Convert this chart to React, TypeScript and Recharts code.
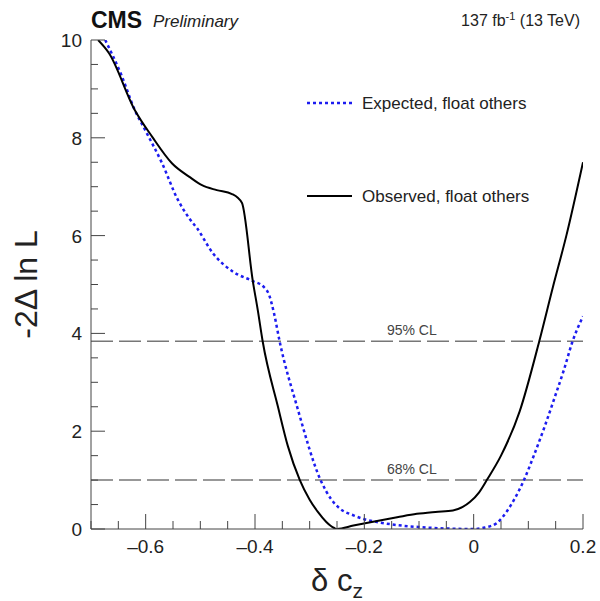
import { LineChart, Line, XAxis, YAxis, ReferenceLine } from 'recharts';

// observed scan, float others
const obsX = [-0.687, -0.667, -0.62, -0.588, -0.552, -0.52, -0.497, -0.47, -0.442, -0.424, -0.404, -0.395, -0.386, -0.358, -0.34, -0.318, -0.3, -0.285, -0.27, -0.255, -0.25, -0.22, -0.184, -0.14, -0.104, -0.07, -0.038, -0.02, -0.007, 0.01, 0.024, 0.05, 0.084, 0.12, 0.145, 0.17, 0.2];
const obsY = [10, 9.73, 8.57, 8.02, 7.48, 7.2, 7.03, 6.93, 6.85, 6.67, 5.07, 4.48, 3.84, 2.5, 1.7, 1.0, 0.6, 0.35, 0.15, 0.02, 0, 0.07, 0.15, 0.24, 0.31, 0.35, 0.38, 0.45, 0.55, 0.75, 1.0, 1.5, 2.4, 3.84, 4.95, 6.02, 7.5];

// expected scan, float others
const expX = [-0.674, -0.645, -0.62, -0.601, -0.57, -0.541, -0.52, -0.506, -0.477, -0.44, -0.404, -0.384, -0.374, -0.365, -0.355, -0.323, -0.28, -0.26, -0.245, -0.22, -0.2, -0.17, -0.14, -0.1, -0.05, 0, 0.02, 0.042, 0.06, 0.075, 0.092, 0.11, 0.13, 0.15, 0.165, 0.181, 0.2];
const expY = [10, 9.3, 8.57, 8.16, 7.48, 6.73, 6.35, 6.15, 5.64, 5.26, 5.07, 4.95, 4.78, 4.4, 3.84, 2.5, 1.0, 0.6, 0.42, 0.28, 0.2, 0.13, 0.08, 0.04, 0.01, 0, 0.03, 0.12, 0.35, 0.62, 1.0, 1.5, 2.1, 2.75, 3.25, 3.84, 4.35];

const xTicks = [-0.7, -0.65, -0.6, -0.55, -0.5, -0.45, -0.4, -0.35, -0.3, -0.25, -0.2, -0.15, -0.1, -0.05, 0, 0.05, 0.1, 0.15, 0.2];
const xMajor = [-0.6, -0.4, -0.2, 0, 0.2];
const xMajorLabels = ['\u20130.6', '\u20130.4', '\u20130.2', '0', '0.2'];
const yTicks = [0, 0.5, 1, 1.5, 2, 2.5, 3, 3.5, 4, 4.5, 5, 5.5, 6, 6.5, 7, 7.5, 8, 8.5, 9, 9.5, 10];
const yMajor = [0, 2, 4, 6, 8, 10];
const yMajorLabels = ['0', '2', '4', '6', '8', '10'];

const clLevels = [3.84, 1.0];
const clLabels = ['95% CL', '68% CL'];

const observed = obsX.map((x, i) => ({ x, y: obsY[i] }));
const expected = expX.map((x, i) => ({ x, y: expY[i] }));

const AXIS = '#444';
const FONT = '"Liberation Sans", Arial, sans-serif';

const idx = (list: number[], v: number) => list.findIndex((m) => Math.abs(m - v) < 1e-6);

function XTick(props: any) {
  const { x, y, payload, top } = props;
  const i = idx(xMajor, payload.value);
  const len = i >= 0 ? 15 : 8;
  const d = top ? 1 : -1;
  return (
    <g>
      <line x1={x} x2={x} y1={y} y2={y + d * len} stroke={AXIS} strokeWidth={1} />
      {!top && i >= 0 && (
        <text x={x} y={y + 24} textAnchor="middle" fontSize={19} fill="#222" fontFamily={FONT}>
          {xMajorLabels[i]}
        </text>
      )}
    </g>
  );
}

function YTick(props: any) {
  const { x, y, payload, right } = props;
  const i = idx(yMajor, payload.value);
  const len = i >= 0 ? 14 : 7;
  const d = right ? -1 : 1;
  return (
    <g>
      <line x1={x} x2={x + d * len} y1={y} y2={y} stroke={AXIS} strokeWidth={1} />
      {!right && i >= 0 && (
        <text x={x - 9} y={y + 7} textAnchor="end" fontSize={19} fill="#222" fontFamily={FONT}>
          {yMajorLabels[i]}
        </text>
      )}
    </g>
  );
}

const legendItems = [
  { name: 'Expected, float others', color: '#1c1cf0', dash: '3 3', width: 2.5 },
  { name: 'Observed, float others', color: '#000', dash: undefined, width: 2 },
];

export default function App() {
  return (
    <div style={{ position: 'relative', width: 600, height: 601, background: '#fff' }}>
      <style>{'body{margin:0}'}</style>
      <LineChart width={600} height={601} margin={{ top: 40, right: 17, bottom: 32, left: 31 }} style={{ fontFamily: FONT }}>
        <XAxis
          dataKey="x"
          type="number"
          domain={[-0.7, 0.2]}
          allowDataOverflow
          ticks={xTicks}
          interval={0}
          height={40}
          tickSize={0}
          tickMargin={0}
          tickLine={false}
          axisLine={{ stroke: AXIS }}
          tick={(p: any) => <XTick {...p} />}
          label={({ viewBox }: any) => (
            <text x={viewBox.x + viewBox.width / 2} y={viewBox.y + 62} textAnchor="middle" fontSize={31} fill="#222" fontFamily={FONT}>
              {'\u03b4 c'}
              <tspan fontSize={21} dy={7}>z</tspan>
            </text>
          )}
        />
        <XAxis
          xAxisId="top"
          orientation="top"
          type="number"
          domain={[-0.7, 0.2]}
          allowDataOverflow
          ticks={xTicks}
          interval={0}
          height={0}
          tickSize={0}
          tickMargin={0}
          tickLine={false}
          axisLine={{ stroke: AXIS }}
          tick={(p: any) => <XTick {...p} top />}
        />
        <YAxis
          type="number"
          domain={[0, 10]}
          allowDataOverflow
          ticks={yTicks}
          interval={0}
          width={60}
          tickSize={0}
          tickMargin={0}
          tickLine={false}
          axisLine={{ stroke: AXIS }}
          tick={(p: any) => <YTick {...p} />}
          label={({ viewBox }: any) => {
            const cx = viewBox.x + 6;
            const cy = viewBox.y + viewBox.height / 2;
            return (
              <text x={cx} y={cy} transform={`rotate(-90, ${cx}, ${cy})`} textAnchor="middle" fontSize={32} fill="#222" fontFamily={FONT}>
                -2{'\u0394'} ln L
              </text>
            );
          }}
        />
        <YAxis
          yAxisId="right"
          orientation="right"
          type="number"
          domain={[0, 10]}
          allowDataOverflow
          ticks={yTicks}
          interval={0}
          width={0}
          tickSize={0}
          tickMargin={0}
          tickLine={false}
          axisLine={{ stroke: AXIS }}
          tick={(p: any) => <YTick {...p} right />}
        />
        {clLevels.map((lv, i) => (
          <ReferenceLine
            key={lv}
            y={lv}
            stroke="#777"
            strokeWidth={1.5}
            strokeDasharray="22 6"
            label={({ viewBox }: any) => (
              <text x={viewBox.x + viewBox.width * 0.652} y={viewBox.y - 6} textAnchor="middle" fontSize={14} fill="#444" fontFamily={FONT}>
                {clLabels[i]}
              </text>
            )}
          />
        ))}
        <Line data={expected} dataKey="y" type="monotone" stroke="#1c1cf0" strokeWidth={2.5} strokeDasharray="3 3" dot={false} activeDot={false} isAnimationActive={false} name="Expected, float others" />
        <Line data={observed} dataKey="y" type="monotone" stroke="#000" strokeWidth={2} dot={false} activeDot={false} isAnimationActive={false} name="Observed, float others" />
      </LineChart>
      <svg width={600} height={601} style={{ position: 'absolute', left: 0, top: 0, pointerEvents: 'none' }} fontFamily={FONT}>
        <text x={91} y={28} fontSize={23} fontWeight="bold" fill="#111">CMS</text>
        <text x={153} y={27} fontSize={17} fontStyle="italic" fill="#222">Preliminary</text>
        <text x={580} y={26} fontSize={16} fill="#222" textAnchor="end">
          137 fb<tspan fontSize={11} dy={-6}>-1</tspan><tspan dy={6}> (13 TeV)</tspan>
        </text>
        {legendItems.map((it, i) => (
          <g key={it.name}>
            <line x1={307} x2={352} y1={103 + i * 93} y2={103 + i * 93} stroke={it.color} strokeWidth={it.width} strokeDasharray={it.dash} />
            <text x={362} y={109 + i * 93} fontSize={17} fill="#222">{it.name}</text>
          </g>
        ))}
      </svg>
    </div>
  );
}
